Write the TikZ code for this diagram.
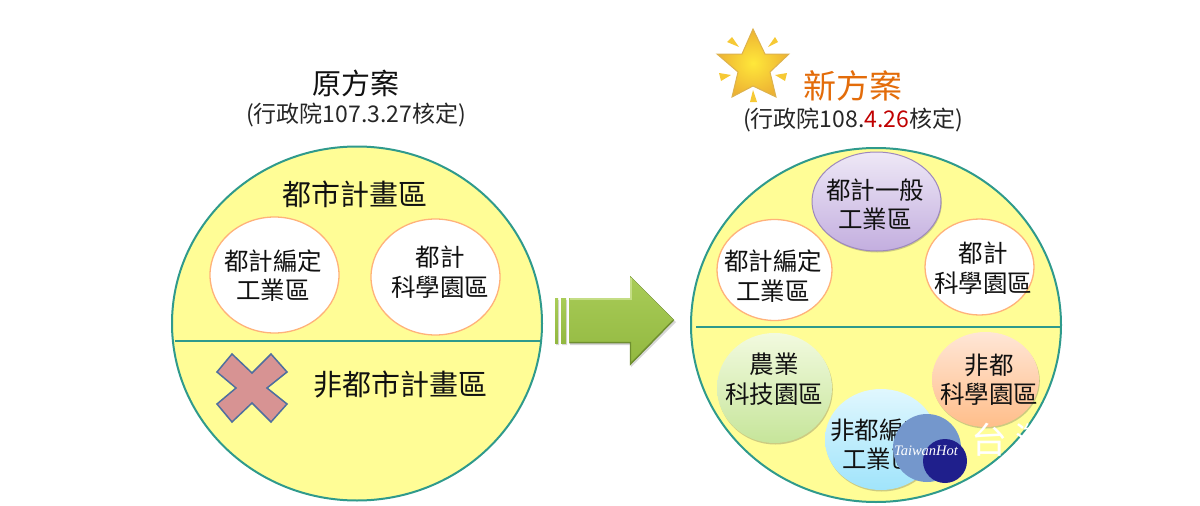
\documentclass[tikz,border=0pt]{standalone}
\usepackage{fontspec}
\setmainfont{Noto Sans CJK TC}
\newfontfamily\logofont{Liberation Serif}
\usetikzlibrary{shadows,shapes.geometric}
\definecolor{zoneyellow}{HTML}{FFFD96}
\definecolor{zoneline}{HTML}{2F9A8C}
\definecolor{ringorange}{HTML}{FFB27A}
\definecolor{inktext}{HTML}{111111}
\definecolor{crossfill}{HTML}{D79393}
\definecolor{crossline}{HTML}{4F6F9F}
\definecolor{arrowtop}{HTML}{A9CC58}
\definecolor{arrowbot}{HTML}{92B840}
\definecolor{arrowlite}{HTML}{C4DD85}
\definecolor{arrowdark}{HTML}{6F8F2F}
\definecolor{newtitle}{HTML}{E36C0A}
\definecolor{newdate}{HTML}{C00000}
\definecolor{purpline}{HTML}{9D88BD}
\definecolor{purptop}{HTML}{EEE8F6}
\definecolor{purpbot}{HTML}{C3AEDF}
\definecolor{greentop}{HTML}{F2FADF}
\definecolor{greenbot}{HTML}{C6E59A}
\definecolor{peachtop}{HTML}{FFE6D6}
\definecolor{peachbot}{HTML}{FFBE8A}
\definecolor{bluetop}{HTML}{E0F7FE}
\definecolor{bluebot}{HTML}{A0E4FB}
\definecolor{logolight}{HTML}{7497CC}
\definecolor{logodark}{HTML}{1F1F8C}
\definecolor{starin}{HTML}{FFE83A}
\definecolor{starout}{HTML}{EDB233}
\definecolor{starline}{HTML}{DDB24E}
\definecolor{rayfill}{HTML}{F6C935}
\tikzset{
  x=1pt,y=-1pt,
  zone/.style={ellipse,draw=zoneline,line width=2pt,fill=zoneyellow,minimum width=370pt,minimum height=354pt,inner sep=0pt,outer sep=0pt},
  bubble/.style n args={2}{ellipse,inner sep=0pt,outer sep=0pt,minimum width=#1,minimum height=#2},
  bubtext/.style={align=center,font=\fontsize{24.5}{29.5}\selectfont,text=inktext,inner sep=0pt},
  whitebub/.style={draw=ringorange,line width=1.3pt,fill=white},
  softshadow/.style={drop shadow={shadow xshift=0.8pt,shadow yshift=-1.5pt,opacity=.28,fill=black!70}},
  maintitle/.style={font=\fontsize{29}{33}\selectfont,text=inktext},
  subtitle/.style={font=\fontsize{23}{26}\selectfont,text=black!85},
  zonelabel/.style={font=\fontsize{29}{33}\selectfont,text=inktext},
  divider/.style={draw=zoneline,line width=2.4pt},
  ray/.style={fill=rayfill},
}
\begin{document}
\begin{tikzpicture}
\useasboundingbox (0,0) rectangle (1200,506);
% left zone
\node[zone] (leftzone) at (357,323.5) {};
\coordinate (ll) at (175,341); \coordinate (lr) at (540,341);
\draw[divider] (ll) -- (lr);
\node[maintitle] (lefttitle) at (356,83) {原方案};
\node[subtitle] (leftsub) at (356,115) {(行政院107.3.27核定)};
\node[zonelabel] (urban) at (355,194) {都市計畫區};
\node[bubble={129pt}{116pt},whitebub] (lbind) at (274.5,275) {};
\node[bubtext] (lbindt) at (273,275.5) {都計編定\\工業區};
\node[bubble={129pt}{116pt},whitebub] (lbsci) at (435.5,277) {};
\node[bubtext] (lbscit) at (440,272) {都計\\科學園區};
\node[zonelabel] (nonurban) at (400,385) {非都市計畫區};
\draw[fill=crossfill,draw=crossline,line width=1.5pt]
  (232,354) -- (252,373) -- (271,354) -- (287,372) -- (267,388) -- (287,404)
  -- (271,422) -- (252,403) -- (232,422) -- (217,404) -- (236,388) -- (217,372) -- cycle;
% arrow
\fill[black!16] (556,300) rectangle (559,345) (562,300) rectangle (567,345);
\fill[top color=arrowtop,bottom color=arrowbot] (555,298) rectangle (558,343);
\fill[top color=arrowtop,bottom color=arrowbot] (561,298) rectangle (566,343);
\fill[black!16] (570,300) -- (631,300) -- (631,278) -- (676,322) -- (631,367) -- (631,345) -- (570,345) -- cycle;
\fill[top color=arrowtop,bottom color=arrowbot]
  (569,298) -- (630,298) -- (630,276) -- (674,320) -- (630,365) -- (630,343) -- (569,343) -- cycle;
\draw[arrowlite,line width=1.6pt] (569.5,299) -- (631,299) -- (631,278);
\draw[arrowdark,line width=1.4pt] (569.5,342.5) -- (630.5,342.5) -- (630.5,364) -- (673,320.5);
% star
\fill[ray] (727,42) -- (732,37) -- (739,47) -- cycle;
\fill[ray] (768,47) -- (775,37) -- (778,42) -- cycle;
\fill[ray] (719,73) -- (731,75) -- (721,81) -- cycle;
\fill[ray] (775,75) -- (787,73) -- (785,81) -- cycle;
\fill[ray] (753,90) -- (757,102) -- (750,102) -- cycle;
\draw[line width=1pt,draw=starline,inner color=starin,outer color=starout]
  (753,29) -- (765,54) -- (789,54) -- (770,72) -- (776,97) -- (753,86) -- (732,97)
  -- (738,72) -- (717,54) -- (742,54) -- cycle;
% right zone
\node[zone] (rightzone) at (876,325) {};
\coordinate (rl) at (696,327); \coordinate (rr) at (1060,327);
\draw[divider] (rl) -- (rr);
\node[font=\fontsize{33}{36}\selectfont,text=newtitle] (righttitle) at (853,86) {新方案};
\node[subtitle] (rightsub) at (853,120) {(行政院108.{\color{newdate}4.26}核定)};
\node[bubble={129pt}{99pt},draw=purpline,line width=1pt,top color=purptop,bottom color=purpbot,softshadow] (rbgen) at (876.5,201.5) {};
\node[bubtext] (rbgent) at (875,204.5) {都計一般\\工業區};
\node[bubble={115pt}{101pt},whitebub] (rbind) at (774.5,270) {};
\node[bubtext] (rbindt) at (773,276) {都計編定\\工業區};
\node[bubble={109pt}{96pt},whitebub] (rbsci) at (979.5,267) {};
\node[bubtext] (rbscit) at (983,268) {都計\\科學園區};
\node[bubble={115pt}{110pt},top color=greentop,bottom color=greenbot,softshadow] (rbagr) at (774.5,388) {};
\node[bubtext] (rbagrt) at (774,379) {農業\\科技園區};
\node[bubble={107pt}{95pt},top color=peachtop,bottom color=peachbot,softshadow] (rbnon) at (985.5,379.5) {};
\node[bubtext] (rbnont) at (989,379.5) {非都\\科學園區};
\node[bubble={112pt}{101pt},top color=bluetop,bottom color=bluebot,softshadow] (rbnonind) at (881,439.5) {};
\node[bubtext] (rbnonindt) at (879,444.5) {非都編定\\工業區};
% watermark
\node[circle,fill=logolight,minimum size=68pt,inner sep=0pt] (logoa) at (927,448) {};
\node[circle,fill=logodark,minimum size=44pt,inner sep=0pt] (logob) at (945,461) {};
\node[text=white,font=\logofont\itshape\fontsize{14.5}{16}\selectfont,inner sep=0pt] (logot) at (926,451) {TaiwanHot};
\node[text=white,font=\fontsize{36}{40}\selectfont,anchor=west,inner sep=0pt] (wm) at (971,440) {台\hspace{8pt}灣};
\end{tikzpicture}
\end{document}
